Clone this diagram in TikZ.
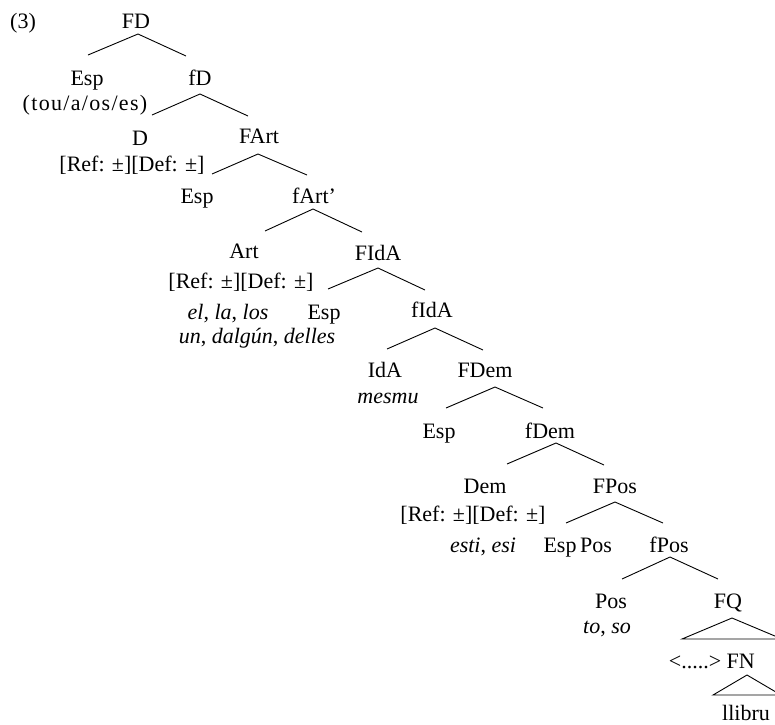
\documentclass[tikz,border=0pt]{standalone}
\usepackage{fontspec}
\setmainfont{Liberation Serif}
\begin{document}
\begin{tikzpicture}[x=1pt,y=-1pt,
  t/.style={anchor=base,inner sep=0pt,font=\fontsize{22}{26}\selectfont},
  ti/.style={anchor=base,inner sep=0pt,font=\fontsize{22}{26}\selectfont\itshape},
  br/.style={line width=0.9pt,line join=miter}]
\useasboundingbox (0,0) rectangle (775,724);
\clip (0,0) rectangle (775,724);
% labels
\node[t] (ex) at (23,28) {(3)};
\node[t] (FD) at (136,28) {FD};
\node[t] (esp1) at (87,85) {Esp};
\node[t] (tou) at (85,110) {\addfontfeature{LetterSpace=6}(tou/a/os/es)};
\node[t] (fD) at (200,85) {fD};
\node[t] (D) at (140,145) {D};
\node[t] (ref1) at (132,171) {[Ref: ±][Def: ±]};
\node[t] (FArt) at (259,143) {FArt};
\node[t] (esp2) at (197,203) {Esp};
\node[t] (fArt) at (314,203) {fArt’};
\node[t] (Art) at (244,258) {Art};
\node[t] (ref2) at (241,288) {[Ref: ±][Def: ±]};
\node[ti] (ella) at (228,319) {el\textup{,} la\textup{,} los};
\node[ti] (undal) at (257,343) {un\textup{,} dalgún\textup{,} delles};
\node[t] (FIdA) at (378,260) {FIdA};
\node[t] (esp3) at (324,319) {Esp};
\node[t] (fIdA) at (432,317) {fIdA};
\node[t] (IdA) at (385,377) {IdA};
\node[ti] (mesmu) at (388,403) {mesmu};
\node[t] (FDem) at (485,377) {FDem};
\node[t] (esp4) at (439,438) {Esp};
\node[t] (fDem) at (550,438) {fDem};
\node[t] (Dem) at (485,493) {Dem};
\node[t] (ref3) at (473,521) {[Ref: ±][Def: ±]};
\node[ti] (esti) at (483,552) {esti\textup{,} esi};
\node[t] (FPos) at (615,493) {FPos};
\node[t] (esp5) at (560,552) {Esp};
\node[t] (pos1) at (596,552) {Pos};
\node[t] (fPos) at (669,552) {fPos};
\node[t] (pos2) at (611,608) {Pos};
\node[ti] (toso) at (607,633) {to\textup{,} so};
\node[t] (FQ) at (728,608) {FQ};
\node[t,anchor=base east] (FN) at (755,668) {<.....> FN};
\node[t] (llibru) at (746,720) {llibru};
% branch coordinates
\foreach \n/\lx/\ly/\tx/\ty/\rx/\ry in {
  a/88/55/138/34/186/56,
  b/152/115/200/94/248/116,
  c/212/174/258/154/307/175,
  d/265/231/313/209/362/232,
  e/328/289/378/268/425/290,
  f/387/349/435/328/483/350,
  g/446/408/495/387/543/408,
  h/507/464/556/443/604/465,
  i/566/523/615/502/663/523,
  j/622/579/670/557/718/579}{
  \coordinate (\n l) at (\lx,\ly);
  \coordinate (\n t) at (\tx,\ty);
  \coordinate (\n r) at (\rx,\ry);
  \draw[br] (\n l) -- (\n t) -- (\n r);
}
\coordinate (qt) at (732,618);
\coordinate (ql) at (682,639);
\coordinate (qr) at (782,639);
\draw[br] (qt) -- (ql) -- (qr) -- cycle;
\coordinate (nt) at (747,675);
\coordinate (nl) at (713,695);
\coordinate (nr) at (781,695);
\draw[br] (nt) -- (nl) -- (nr) -- cycle;
\end{tikzpicture}
\end{document}
